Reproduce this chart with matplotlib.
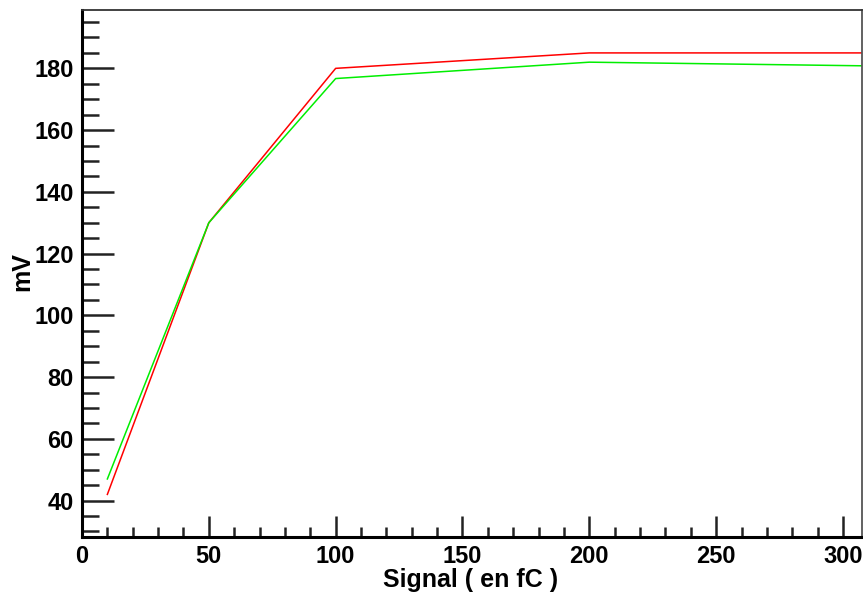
import matplotlib
matplotlib.use("Agg")
import matplotlib.pyplot as plt
from matplotlib.ticker import MultipleLocator

# signal charge (fC) and amplitude (mV)
signal_red = [10, 50, 100, 200, 310]
mv_red     = [42, 130, 180, 185, 185]
signal_green = [10, 50, 100, 200, 310]
mv_green     = [47, 130, 176.7, 182, 180.8]

W, H = 863, 594
plt.rcParams["font.family"] = ["Liberation Sans", "DejaVu Sans"]
plt.rcParams["font.weight"] = "bold"

fig = plt.figure(figsize=(W / 100, H / 100), dpi=100)
ax = fig.add_axes([82 / W, (H - 537) / H, (862 - 82) / W, (537 - 10) / H])

ax.plot(signal_red, mv_red, color="#ff0000", linewidth=1.1)
ax.plot(signal_green, mv_green, color="#00ee00", linewidth=1.1)

ax.set_xlim(0, 307.5)
ax.set_ylim(28.2, 198.9)

ax.xaxis.set_major_locator(MultipleLocator(50))
ax.xaxis.set_minor_locator(MultipleLocator(10))
ax.yaxis.set_major_locator(MultipleLocator(20))
ax.yaxis.set_minor_locator(MultipleLocator(5))

ax.tick_params(axis="both", which="both", direction="in", color="#222222",
               labelsize=17, width=1.8)
ax.tick_params(axis="x", which="major", length=15, pad=6)
ax.tick_params(axis="x", which="minor", length=7.5)
ax.tick_params(axis="y", which="major", length=23, pad=6)
ax.tick_params(axis="y", which="minor", length=12)
for lab in ax.get_xticklabels() + ax.get_yticklabels():
    lab.set_fontweight("bold")

ax.spines["left"].set_linewidth(2.2)
ax.spines["bottom"].set_linewidth(2.2)
ax.spines["top"].set_linewidth(1.3)
ax.spines["right"].set_linewidth(1.3)
ax.spines["top"].set_color("#333333")
ax.spines["right"].set_color("#555555")

fig.text(471 / W, 1 - 580 / H, "Signal ( en fC )", ha="center", va="center",
         fontsize=18, fontweight="bold")
fig.text(22 / W, 1 - 272 / H, "mV", ha="center", va="center", rotation=90,
         fontsize=18, fontweight="bold")

fig.savefig("out.png", dpi=100)
